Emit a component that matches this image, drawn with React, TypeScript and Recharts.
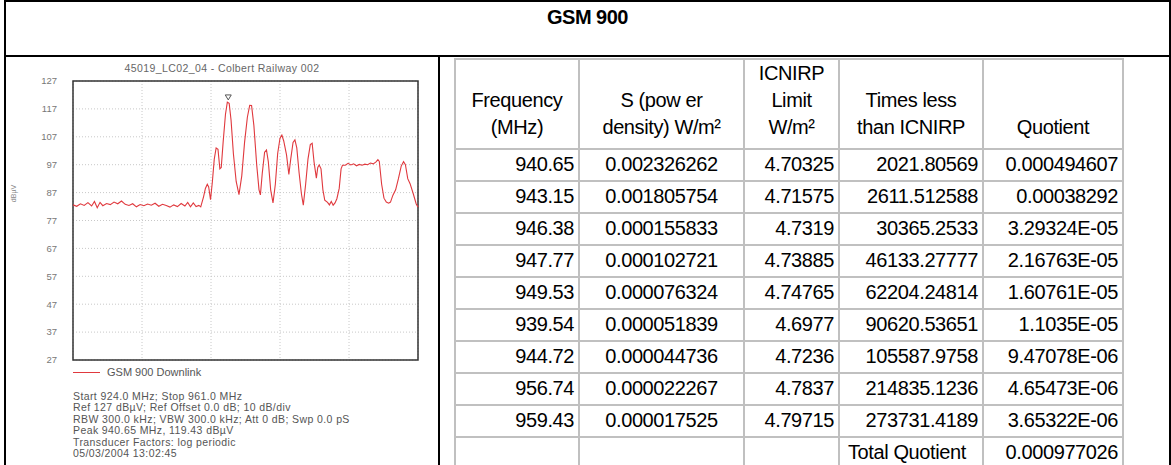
import React from 'react';
import { LineChart, Line, XAxis, YAxis, CartesianGrid, ReferenceArea, ReferenceDot } from 'recharts';

// spectrum trace (MHz / dBuV)
const FREQ = [
  924.0, 924.4, 924.8, 925.2, 925.6, 926.0, 926.3, 926.6, 926.9, 927.2, 927.6, 928.0, 928.4, 928.8,
  929.2, 929.6, 930.0, 930.4, 930.8, 931.2, 931.6, 932.0, 932.4, 932.8, 933.2, 933.6, 934.0, 934.4,
  934.8, 935.2, 935.6, 936.0, 936.3, 936.6, 936.9, 937.2, 937.5, 937.7,
  938.0, 938.2, 938.4, 938.55, 938.75, 938.95, 939.15, 939.35, 939.55, 939.75, 939.9, 940.1, 940.35,
  940.55, 940.75, 940.95, 941.2, 941.5, 941.8, 942.1, 942.4, 942.7, 942.95, 943.15, 943.4, 943.7,
  943.95, 944.1, 944.3, 944.55, 944.75, 944.95, 945.2, 945.45, 945.7, 945.95, 946.2, 946.4, 946.6,
  946.9, 947.15, 947.35, 947.6, 947.8, 948.0, 948.25, 948.5, 948.7, 948.95, 949.2, 949.45, 949.65,
  949.85, 950.1, 950.25, 950.4, 950.6, 950.8, 951.0, 951.3, 951.5, 951.7, 951.9, 952.1, 952.3, 952.55,
  952.75, 952.9, 953.2, 953.5, 953.8, 954.1, 954.4, 954.7, 955.0, 955.3, 955.6, 955.9, 956.2, 956.5,
  956.7, 956.85, 957.1, 957.35, 957.6, 957.85, 958.05, 958.3, 958.6, 958.9, 959.2, 959.45, 959.65,
  959.9, 960.15, 960.5, 960.8, 961.0,
];
const LEVEL = [
  82.6, 82.1, 83.0, 82.4, 83.4, 82.2, 83.8, 81.6, 83.5, 82.3, 83.1, 82.7, 83.6, 83.0,
  84.0, 82.8, 82.4, 83.0, 81.9, 82.7, 82.3, 82.9, 82.5, 83.2, 82.1, 82.8, 82.4, 81.8,
  82.6, 82.0, 83.1, 82.2, 83.5, 81.9, 83.3, 82.0, 82.4, 81.9,
  85.5, 88.5, 90.0, 89.0, 84.5, 91.0, 99.0, 103.0, 102.5, 95.5, 96.0, 105.0, 115.0,
  119.4, 119.0, 113.0, 101.0, 91.0, 86.3, 93.0, 105.0, 114.0, 118.3, 118.2, 111.0, 97.0,
  88.0, 86.2, 94.0, 101.5, 102.3, 98.0, 88.0, 83.3, 90.0, 101.0, 106.5, 107.6, 105.5,
  100.5, 93.5, 99.0, 105.0, 105.9, 103.0, 94.0, 86.5, 82.5, 90.0, 99.0, 104.2, 104.7,
  98.0, 92.2, 96.0, 96.9, 95.5, 88.0, 84.3, 83.5, 82.6, 83.8, 82.5, 83.3, 84.8, 88.5,
  95.5, 96.8, 96.8, 97.5, 96.9, 97.3, 96.6, 97.1, 96.8, 97.2, 97.0, 97.6, 97.3, 98.0,
  98.8, 98.2, 90.0, 85.0, 83.6, 83.2, 83.6, 86.0, 88.0, 92.0, 96.5, 98.1, 97.0,
  92.0, 90.2, 86.5, 83.0, 81.8,
];
const SPAN_TICKS = [924, 927.7, 931.4, 935.1, 938.8, 942.5, 946.2, 949.9, 953.6, 957.3, 961];
const LEVEL_TICKS = [27, 37, 47, 57, 67, 77, 87, 97, 107, 117, 127];
const PEAK_FREQ = 940.65;
const PEAK_LEVEL = 119.43;

const INFO_LINES = [
  'Start 924.0 MHz; Stop 961.0 MHz',
  'Ref 127 dBµV; Ref Offset 0.0 dB; 10 dB/div',
  'RBW 300.0 kHz; VBW 300.0 kHz; Att 0 dB; Swp 0.0 pS',
  'Peak 940.65 MHz, 119.43 dBµV',
  'Transducer Factors: log periodic',
  '05/03/2004 13:02:45',
];

// table columns
const FREQUENCIES = ['940.65', '943.15', '946.38', '947.77', '949.53', '939.54', '944.72', '956.74', '959.43'];
const S_DENSITY = ['0.002326262', '0.001805754', '0.000155833', '0.000102721', '0.000076324', '0.000051839', '0.000044736', '0.000022267', '0.000017525'];
const ICNIRP_LIMIT = ['4.70325', '4.71575', '4.7319', '4.73885', '4.74765', '4.6977', '4.7236', '4.7837', '4.79715'];
const TIMES_LESS = ['2021.80569', '2611.512588', '30365.2533', '46133.27777', '62204.24814', '90620.53651', '105587.9758', '214835.1236', '273731.4189'];
const QUOTIENT = ['0.000494607', '0.00038292', '3.29324E-05', '2.16763E-05', '1.60761E-05', '1.1035E-05', '9.47078E-06', '4.65473E-06', '3.65322E-06'];
const TOTAL_QUOTIENT = '0.000977026';

const trace = FREQ.map((f, i) => ({ f, v: LEVEL[i] }));

const FONT = '"Liberation Sans", Arial, sans-serif';
const CELL_BORDER = '2px solid #c0c0c0';
const COL_WIDTHS = [124, 165, 95, 144, 140];
const TRACE_RED = '#e0393e';

const PeakMarker = (props: any) => {
  const { cx, cy } = props;
  if (cx == null || cy == null) return null;
  return (
    <path
      d={`M${cx - 3},${cy - 3} L${cx + 3},${cy - 3} L${cx},${cy + 2} Z`}
      fill="none"
      stroke="#555"
      strokeWidth={1}
    />
  );
};

const cell = (align: 'right' | 'center' | 'left', extra: React.CSSProperties = {}): React.CSSProperties => ({
  border: CELL_BORDER,
  padding: '0 4px 5px 4px',
  textAlign: align,
  verticalAlign: 'bottom',
  whiteSpace: 'nowrap',
  ...extra,
});

const App: React.FC = () => {
  return (
    <div style={{ position: 'absolute', left: 0, top: 0, width: 1171, height: 465, background: '#fff', overflow: 'hidden', fontFamily: FONT }}>
      {/* outer frame */}
      <div style={{ position: 'absolute', left: 4, top: 0, width: 1167, height: 480, borderLeft: '2px solid #000', borderRight: '2px solid #000', borderTop: '2px solid #000', boxSizing: 'border-box' }} />
      <div style={{ position: 'absolute', left: 4, top: 55, width: 1167, height: 2, background: '#000' }} />
      <div style={{ position: 'absolute', left: 438, top: 55, width: 2, height: 420, background: '#000' }} />
      <div style={{ position: 'absolute', left: 4, top: 6, width: 1167, textAlign: 'center', fontWeight: 'bold', fontSize: 20, letterSpacing: -0.5, color: '#000' }}>
        GSM 900
      </div>

      {/* spectrum panel */}
      <div style={{ position: 'absolute', left: 6, width: 432, top: 62, textAlign: 'center', fontSize: 10.5, letterSpacing: 0.4, color: '#666' }}>
        45019_LC02_04 - Colbert Railway 002
      </div>
      <div style={{ position: 'absolute', left: 4, top: 190, width: 18, textAlign: 'center', fontSize: 7, color: '#888', transform: 'rotate(-90deg)' }}>
        dBµV
      </div>
      <LineChart
        width={440}
        height={312}
        data={trace}
        margin={{ top: 21, right: 22, bottom: 12, left: 0 }}
        style={{ position: 'absolute', left: 0, top: 60 }}
      >
        <CartesianGrid stroke="#c8c8c8" strokeDasharray="1 2" />
        <XAxis dataKey="f" type="number" domain={[924, 961]} ticks={SPAN_TICKS} hide />
        <YAxis
          type="number"
          domain={[27, 127]}
          ticks={LEVEL_TICKS}
          width={73}
          tickLine={false}
          axisLine={false}
          tickSize={6}
          tickMargin={10}
          tick={{ fontSize: 9.5, fill: '#777', fontFamily: FONT }}
        />
        <ReferenceArea x1={924} x2={961} y1={27} y2={127} fill="none" stroke="#333" strokeWidth={1.5} />
        <Line type="linear" dataKey="v" stroke={TRACE_RED} strokeWidth={1.1} dot={false} isAnimationActive={false} />
        <ReferenceDot x={PEAK_FREQ} y={PEAK_LEVEL + 1.5} shape={PeakMarker} />
      </LineChart>
      <div style={{ position: 'absolute', left: 73, top: 366, display: 'flex', alignItems: 'center', fontSize: 11, color: '#555' }}>
        <span style={{ display: 'inline-block', width: 27, height: 1, background: TRACE_RED, marginRight: 7 }} />
        GSM 900 Downlink
      </div>
      <div style={{ position: 'absolute', left: 73, top: 391, fontSize: 10.5, letterSpacing: 0.4, lineHeight: '11.4px', color: '#555' }}>
        {INFO_LINES.map((l) => (
          <div key={l}>{l}</div>
        ))}
      </div>

      {/* results table */}
      <table
        style={{
          position: 'absolute',
          left: 454,
          top: 58,
          borderCollapse: 'collapse',
          fontFamily: FONT,
          fontSize: 20,
          letterSpacing: -0.4,
          color: '#000',
          tableLayout: 'fixed',
        }}
      >
        <colgroup>
          {COL_WIDTHS.map((w, i) => (
            <col key={i} style={{ width: w }} />
          ))}
        </colgroup>
        <tbody>
          <tr style={{ height: 83, lineHeight: '27px' }}>
            <td style={cell('center', { paddingBottom: 7 })}>Frequency<br />(MHz)</td>
            <td style={cell('center', { paddingBottom: 7 })}>S (pow er<br />density) W/m²</td>
            <td style={cell('center', { paddingBottom: 7 })}>ICNIRP<br />Limit<br />W/m²</td>
            <td style={cell('center', { paddingBottom: 7 })}>Times less<br />than ICNIRP</td>
            <td style={cell('center', { paddingBottom: 7 })}>Quotient</td>
          </tr>
          {FREQUENCIES.map((f, i) => (
            <tr key={f} style={{ height: 32, lineHeight: '22px' }}>
              <td style={cell('right')}>{f}</td>
              <td style={cell('center', { verticalAlign: 'top', padding: '3px 4px 0 4px' })}>{S_DENSITY[i]}</td>
              <td style={cell('right')}>{ICNIRP_LIMIT[i]}</td>
              <td style={cell('right')}>{TIMES_LESS[i]}</td>
              <td style={cell('right')}>{QUOTIENT[i]}</td>
            </tr>
          ))}
          <tr style={{ height: 32, lineHeight: '22px' }}>
            <td style={cell('right')} />
            <td style={cell('right')} />
            <td style={cell('right')} />
            <td style={cell('left', { paddingLeft: 8 })}>Total Quotient</td>
            <td style={cell('right')}>{TOTAL_QUOTIENT}</td>
          </tr>
        </tbody>
      </table>
    </div>
  );
};

export default App;
